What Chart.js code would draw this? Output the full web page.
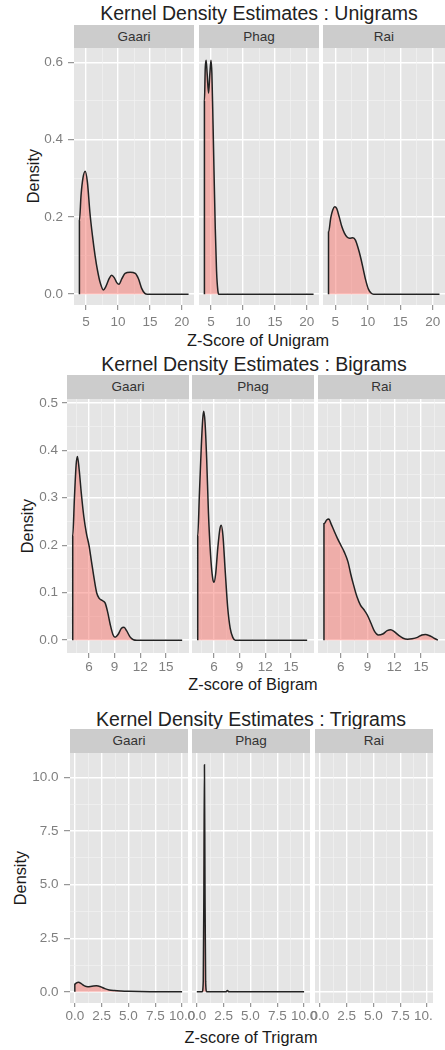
<!DOCTYPE html>
<html>
<head>
<title>Kernel Density Estimates</title>
<script src="https://cdn.jsdelivr.net/npm/chart.js@4"></script>
<style>
  html, body { margin: 0; padding: 0; }
  body { width: 445px; height: 1050px; overflow: hidden; background: #fff; position: relative;
         font-family: "Liberation Sans", Arial, sans-serif; }
  .title { position: absolute; font-size: 19.5px; line-height: 22px; color: #222; white-space: nowrap; transform: translateX(-50%); }
  .strip { position: absolute; background: #ccc; color: #333; font-size: 13.5px; text-align: center; }
  .xlab { position: absolute; font-size: 16.3px; line-height: 16.3px; color: #1a1a1a; white-space: nowrap; transform: translateX(-50%); }
  .ylab { position: absolute; font-size: 16.3px; line-height: 16.3px; color: #1a1a1a; white-space: nowrap; transform: translate(-50%, -50%) rotate(-90deg); }
  .panel { position: absolute; }
</style>
</head>
<body>
<div class="title" style="left:259px;top:2px">Kernel Density Estimates : Unigrams</div>
<div class="xlab" style="left:258px;top:332px">Z-Score of Unigram</div>
<div class="ylab" style="left:33px;top:176px">Density</div>

<div class="title" style="left:254px;top:353px">Kernel Density Estimates : Bigrams</div>
<div class="xlab" style="left:253px;top:676px">Z-score of Bigram</div>
<div class="ylab" style="left:27px;top:526px">Density</div>

<div class="title" style="left:251px;top:708px">Kernel Density Estimates : Trigrams</div>
<div class="xlab" style="left:251px;top:1029px">Z-score of Trigram</div>
<div class="ylab" style="left:20px;top:878px">Density</div>

<script>
    Chart.defaults.font.family = '"Liberation Sans", Arial, sans-serif';

    const facets = ['Gaari', 'Phag', 'Rai'];

    // unigrams
    const uniXTicks = [5, 10, 15, 20];
    const uniYTicks = [0, 0.2, 0.4, 0.6];
    const uniGaariX = [3.95, 3.95, 4.2, 4.5, 4.85, 5.2, 5.6, 6.0, 6.4, 6.8, 7.2, 7.7, 8.1, 8.6, 9.0, 9.4, 9.8, 10.15, 10.6, 11.1, 11.9, 12.7, 13.2, 13.7, 14.2, 14.6, 21.05];
    const uniGaariY = [0, 0.19, 0.255, 0.3, 0.318, 0.29, 0.21, 0.15, 0.1, 0.06, 0.03, 0.011, 0.02, 0.04, 0.049, 0.043, 0.03, 0.026, 0.04, 0.054, 0.057, 0.054, 0.04, 0.015, 0.002, 0, 0];
    const uniPhagX = [3.95, 3.95, 4.08, 4.22, 4.38, 4.6, 4.8, 4.98, 5.12, 5.3, 5.45, 5.65, 5.85, 6.05, 6.2, 21.05];
    const uniPhagY = [0, 0.5, 0.585, 0.605, 0.57, 0.52, 0.57, 0.605, 0.57, 0.44, 0.32, 0.17, 0.06, 0.01, 0, 0];
    const uniRaiX = [3.95, 3.95, 4.3, 4.6, 4.9, 5.2, 5.6, 6.0, 6.4, 6.8, 7.2, 7.7, 8.1, 8.5, 8.9, 9.3, 9.7, 10.1, 10.5, 10.9, 21.05];
    const uniRaiY = [0, 0.16, 0.198, 0.218, 0.226, 0.222, 0.2, 0.175, 0.158, 0.148, 0.145, 0.146, 0.14, 0.12, 0.095, 0.065, 0.035, 0.013, 0.003, 0, 0];

    // bigrams
    const biXTicks = [6, 9, 12, 15];
    const biYTicks = [0, 0.1, 0.2, 0.3, 0.4, 0.5];
    const biGaariX = [4.1, 4.1, 4.3, 4.5, 4.65, 4.85, 5.1, 5.4, 5.7, 6.0, 6.3, 6.6, 6.9, 7.2, 7.6, 7.9, 8.2, 8.5, 8.8, 9.05, 9.4, 9.8, 10.1, 10.4, 10.8, 11.2, 11.6, 16.9];
    const biGaariY = [0, 0.22, 0.3, 0.37, 0.387, 0.36, 0.31, 0.26, 0.225, 0.2, 0.165, 0.13, 0.1, 0.088, 0.083, 0.078, 0.058, 0.032, 0.012, 0.006, 0.012, 0.025, 0.027, 0.02, 0.007, 0.001, 0, 0];
    const biPhagX = [4.1, 4.1, 4.3, 4.5, 4.68, 4.8, 4.95, 5.15, 5.35, 5.6, 5.85, 6.0, 6.2, 6.45, 6.7, 6.85, 7.05, 7.3, 7.6, 7.9, 8.2, 8.5, 16.9];
    const biPhagY = [0, 0.22, 0.31, 0.4, 0.465, 0.482, 0.46, 0.38, 0.27, 0.18, 0.13, 0.122, 0.14, 0.195, 0.235, 0.242, 0.22, 0.15, 0.07, 0.025, 0.006, 0, 0];
    const biRaiX = [4.1, 4.1, 4.4, 4.65, 4.9, 5.2, 5.6, 6.0, 6.4, 6.8, 7.1, 7.4, 7.8, 8.2, 8.6, 9.0, 9.4, 9.8, 10.2, 10.7, 11.2, 11.6, 12.0, 12.5, 13.0, 13.5, 14.0, 14.6, 15.1, 15.5, 15.9, 16.4, 16.9];
    const biRaiY = [0, 0.245, 0.253, 0.255, 0.245, 0.232, 0.215, 0.2, 0.185, 0.165, 0.14, 0.118, 0.092, 0.074, 0.064, 0.052, 0.035, 0.018, 0.011, 0.013, 0.02, 0.022, 0.018, 0.01, 0.004, 0.002, 0.003, 0.006, 0.011, 0.012, 0.01, 0.005, 0];

    // trigrams
    const triXTicks = [0, 2.5, 5, 7.5, 10];
    const triYTicks = [0, 2.5, 5, 7.5, 10];
    const triGaariX = [0, 0, 0.15, 0.35, 0.6, 0.9, 1.2, 1.6, 2.0, 2.4, 2.8, 3.2, 3.7, 4.3, 5.0, 6.0, 7.0, 8.0, 9.0, 10.0];
    const triGaariY = [0, 0.35, 0.42, 0.45, 0.38, 0.28, 0.24, 0.26, 0.28, 0.24, 0.15, 0.09, 0.06, 0.04, 0.025, 0.012, 0.005, 0.002, 0, 0];
    const triPhagX = [0, 0.5, 0.6, 0.66, 0.71, 0.76, 0.82, 0.92, 2.7, 2.85, 3.0, 10.0];
    const triPhagY = [0, 0, 0.5, 5.0, 10.6, 5.0, 0.5, 0, 0, 0.06, 0, 0];
    const triRaiX = [];
    const triRaiY = [];

    // layout of the three facet rows (pixels)
    const sections = [
        { top: 48, bottom: 305, stripTop: 25, panels: [[74, 194], [199, 319], [323, 445]],
          xMin: 3.1, xMax: 21.9, yMin: -0.028, yMax: 0.637, xTicks: uniXTicks, yTicks: uniYTicks, xDec: 0,
          xTl: 5, xPad: 4, yTl: 6, yPad: 5, clipRight: false,
          series: [[uniGaariX, uniGaariY], [uniPhagX, uniPhagY], [uniRaiX, uniRaiY]] },
        { top: 399, bottom: 653, stripTop: 375, panels: [[67, 189], [192, 314], [318, 445]],
          xMin: 3.43, xMax: 17.7, yMin: -0.027, yMax: 0.508, xTicks: biXTicks, yTicks: biYTicks, xDec: 0,
          xTl: 5, xPad: 1.5, yTl: 5, yPad: 4, clipRight: false,
          series: [[biGaariX, biGaariY], [biPhagX, biPhagY], [biRaiX, biRaiY]] },
        { top: 753, bottom: 1003, stripTop: 729, panels: [[70, 188], [192, 310], [315, 433]],
          xMin: -0.45, xMax: 10.55, yMin: -0.52, yMax: 11.15, xTicks: triXTicks, yTicks: triYTicks, xDec: 1,
          xTl: 4, xPad: 1, yTl: 6, yPad: 5.5, clipRight: true,
          series: [[triGaariX, triGaariY], [triPhagX, triPhagY], [triRaiX, triRaiY]] }
    ];

    const panelBg = {
        id: 'panelBg',
        beforeDraw(chart) {
            const a = chart.chartArea, c = chart.ctx;
            c.save();
            c.fillStyle = '#E5E5E5';
            c.fillRect(a.left, a.top, a.right - a.left, a.bottom - a.top);
            c.restore();
        }
    };

    function minorTicks(ticks, lo, hi) {
        const step = ticks[1] - ticks[0];
        const out = ticks.map(v => v - step / 2).concat([ticks[ticks.length - 1] + step / 2]);
        return out.filter(v => v > lo && v < hi);
    }

    function makePanel(sec, idx) {
        const [pl, pr] = sec.panels[idx];
        const first = idx === 0;
        const padT = 8, padSide = 14;
        const padR = (sec.clipRight && idx === 2) ? 0 : padSide;
        const left = first ? 0 : pl - padSide;
        const top = sec.top - padT;
        const axisH = 32;

        const strip = document.createElement('div');
        strip.className = 'strip';
        strip.style.cssText = `left:${pl}px;top:${sec.stripTop}px;width:${pr - pl}px;height:${sec.top - sec.stripTop}px;line-height:${sec.top - sec.stripTop}px`;
        strip.textContent = facets[idx];
        document.body.appendChild(strip);

        const wrap = document.createElement('div');
        wrap.className = 'panel';
        wrap.style.cssText = `left:${left}px;top:${top}px;width:${pr + padR - left}px;height:${sec.bottom - top + axisH}px`;
        const cv = document.createElement('canvas');
        wrap.appendChild(cv);
        document.body.appendChild(wrap);

        const [xs, ys] = sec.series[idx];
        const xMinor = minorTicks(sec.xTicks, sec.xMin, sec.xMax);
        const yMinor = minorTicks(sec.yTicks, sec.yMin, sec.yMax);

        new Chart(cv, {
            type: 'line',
            data: {
                datasets: [{
                    data: xs.map((x, i) => ({ x: x, y: ys[i] })),
                    fill: 'origin',
                    backgroundColor: 'rgba(248,118,109,0.5)',
                    borderColor: '#222222',
                    borderWidth: 1.5,
                    pointRadius: 0,
                    cubicInterpolationMode: 'monotone'
                }]
            },
            options: {
                responsive: true,
                maintainAspectRatio: false,
                animation: false,
                layout: { padding: { left: first ? 0 : padSide, right: padR, top: padT, bottom: 0 } },
                plugins: { legend: { display: false }, tooltip: { enabled: false } },
                scales: {
                    x: {
                        type: 'linear', position: 'bottom', min: sec.xMin, max: sec.xMax,
                        border: { display: false },
                        grid: { color: '#ffffff', lineWidth: 1.4, tickColor: '#7f7f7f', tickLength: sec.xTl, tickWidth: 1 },
                        ticks: {
                            autoSkip: false, maxRotation: 0, color: '#7f7f7f', padding: sec.xPad,
                            font: { size: 13.5 },
                            callback: v => sec.xDec ? Number(v).toFixed(sec.xDec) : String(v)
                        },
                        afterBuildTicks: s => { s.ticks = sec.xTicks.map(v => ({ value: v })); },
                        afterFit: s => { s.height = axisH; s.paddingLeft = 0; s.paddingRight = 0; }
                    },
                    y: {
                        type: 'linear', position: 'left', min: sec.yMin, max: sec.yMax,
                        border: { display: false },
                        grid: { color: '#ffffff', lineWidth: 1.4, tickColor: '#7f7f7f', tickLength: sec.yTl, tickWidth: 1, drawTicks: first },
                        ticks: {
                            display: first, autoSkip: false, color: '#7f7f7f', padding: sec.yPad,
                            font: { size: 13.5 },
                            callback: v => Number(v).toFixed(1)
                        },
                        afterBuildTicks: s => { s.ticks = sec.yTicks.map(v => ({ value: v })); },
                        afterFit: s => { s.width = first ? pl : 0; s.paddingTop = 0; s.paddingBottom = 0; }
                    },
                    xm: {
                        type: 'linear', position: 'top', min: sec.xMin, max: sec.xMax,
                        border: { display: false },
                        grid: { color: '#F2F2F2', lineWidth: 0.7, drawTicks: false },
                        ticks: { display: false },
                        afterBuildTicks: s => { s.ticks = xMinor.map(v => ({ value: v })); },
                        afterFit: s => { s.height = 0; s.paddingLeft = 0; s.paddingRight = 0; }
                    },
                    ym: {
                        type: 'linear', position: 'right', min: sec.yMin, max: sec.yMax,
                        border: { display: false },
                        grid: { color: '#F2F2F2', lineWidth: 0.7, drawTicks: false },
                        ticks: { display: false },
                        afterBuildTicks: s => { s.ticks = yMinor.map(v => ({ value: v })); },
                        afterFit: s => { s.width = 0; s.paddingTop = 0; s.paddingBottom = 0; }
                    }
                }
            },
            plugins: [panelBg]
        });
    }

    sections.forEach(sec => {
        for (let i = 0; i < facets.length; i++) makePanel(sec, i);
    });
</script>
</body>
</html>
